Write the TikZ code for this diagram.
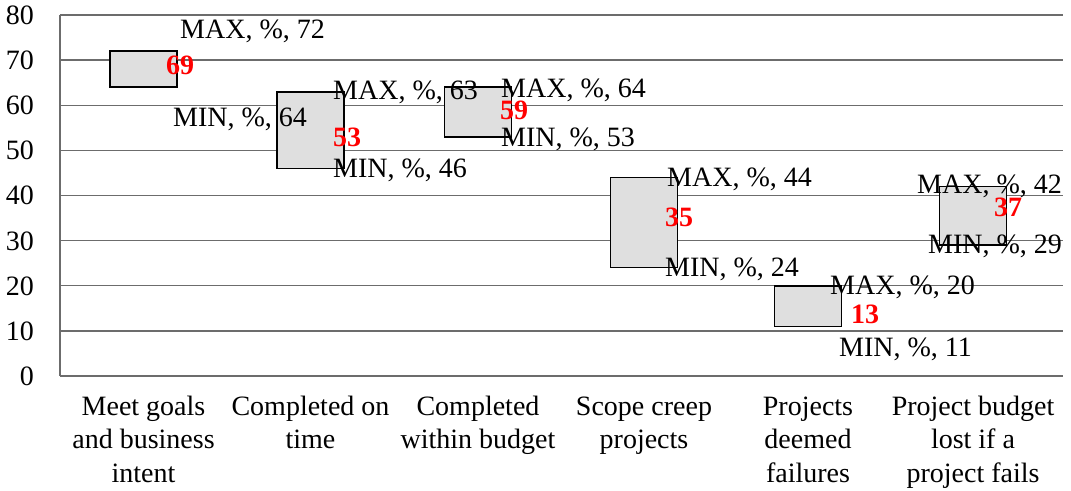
\documentclass[tikz,border=0pt]{standalone}
\usepackage{fontspec}
\setmainfont{Liberation Serif}
\begin{document}
\begin{tikzpicture}[x=1pt,y=1pt,
  grid/.style={draw=gray!85!black, line width=1.4pt},
  rangebox/.style={draw=black, fill=gray!25, line width=1.6pt},
  lbl/.style={anchor=base west, inner sep=0pt, font=\fontsize{28}{32}\selectfont},
  val/.style={anchor=base west, inner sep=0pt, text=red, font=\fontsize{28}{32}\selectfont\bfseries},
  tick/.style={anchor=base east, inner sep=0pt, font=\fontsize{28}{32}\selectfont},
  cat/.style={anchor=base, inner sep=0pt, align=center, font=\fontsize{28}{33.5}\selectfont}]
\useasboundingbox (0,0) rectangle (1071,490);
\fill[white] (0,0) rectangle (1071,490);

% value axis: y = 114 + 4.5125 * value
\foreach \v in {10,20,...,80}
  \draw[grid] (60,{114+4.5125*\v}) -- (1063,{114+4.5125*\v});
\draw[grid] (60,114) -- (1063,114);
\draw[grid] (60,114) -- (60,475);
\foreach \v in {0,10,...,80}
  \node[tick] (t\v) at (34,{104.5+4.5125*\v}) {\v};

% range boxes (MIN to MAX)
\newcommand{\rangebar}[3]{%
  \draw[rangebox] ({#1-33.5},{114+4.5125*#2}) rectangle ({#1+33.5},{114+4.5125*#3});}
\rangebar{143.5}{64}{72}
\rangebar{310.5}{46}{63}
\rangebar{478}{53}{64}
\rangebar{644}{24}{44}
\rangebar{808}{11}{20}
\rangebar{973}{29}{42}

% data labels
\node[lbl] (max1) at (180,451) {MAX, \%, 72};
\node[val] (avg1) at (166,415) {69};
\node[lbl] (min1) at (173,363.3) {MIN, \%, 64};

\node[lbl] (max2) at (333,390) {MAX, \%, 63};
\node[val] (avg2) at (333,343) {53};
\node[lbl] (min2) at (333,312) {MIN, \%, 46};

\node[lbl] (max3) at (501,392) {MAX, \%, 64};
\node[val] (avg3) at (500,370) {59};
\node[lbl] (min3) at (501,343) {MIN, \%, 53};

\node[lbl] (max4) at (667,303) {MAX, \%, 44};
\node[val] (avg4) at (665,263) {35};
\node[lbl] (min4) at (665,213) {MIN, \%, 24};

\node[lbl] (max5) at (830,195) {MAX, \%, 20};
\node[val] (avg5) at (851,166) {13};
\node[lbl] (min5) at (839,133) {MIN, \%, 11};

\node[lbl] (max6) at (917,296) {MAX, \%, 42};
\node[val] (avg6) at (994,273) {37};
\node[lbl] (min6) at (928,236) {MIN, \%, 29};

% category labels (anchor at the baseline of the last line)
\node[cat] (c1) at (143.5,8) {Meet goals\\and business\\intent};
\node[cat] (c2) at (310.5,41.5) {Completed on\\time};
\node[cat] (c3) at (478,41.5) {Completed\\within budget};
\node[cat] (c4) at (644,41.5) {Scope creep\\projects};
\node[cat] (c5) at (808,8) {Projects\\deemed\\failures};
\node[cat] (c6) at (973,8) {Project budget\\lost if a\\project fails};
\end{tikzpicture}
\end{document}
